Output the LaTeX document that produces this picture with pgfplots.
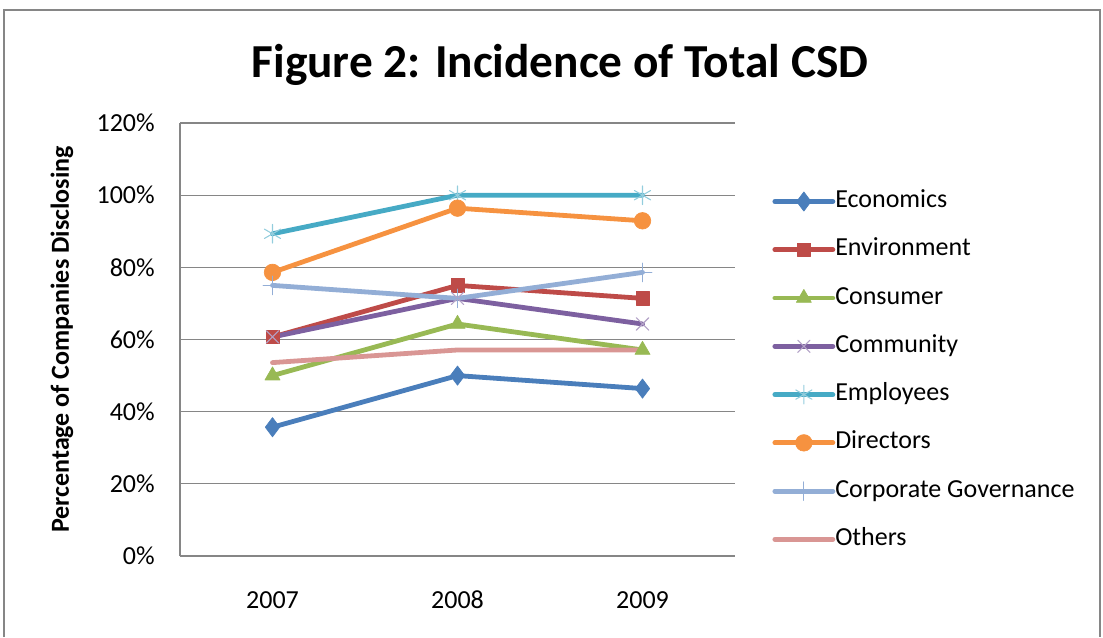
\documentclass[border=0pt]{standalone}
\usepackage{pgfplots}
\pgfplotsset{compat=1.18}
\usepackage{fontspec}
\setmainfont{Carlito}
\definecolor{ceco}{HTML}{4A7EBB}
\definecolor{cenv}{HTML}{BE4B48}
\definecolor{ccon}{HTML}{98B954}
\definecolor{ccom}{HTML}{7D60A0}
\definecolor{ccomm}{HTML}{B3A2C7}
\definecolor{cemp}{HTML}{46AAC5}
\definecolor{cempm}{HTML}{93CDDD}
\definecolor{cdir}{HTML}{F69240}
\definecolor{ccg}{HTML}{93AED6}
\definecolor{coth}{HTML}{D99694}
\definecolor{cgrid}{HTML}{868686}
\begin{document}
\begin{tikzpicture}
\path[use as bounding box] (0pt,0pt) rectangle (827.25pt,-477.75pt);
\draw[color=cgrid, line width=1.2pt] (3pt,-477.75pt) -- (3pt,-7.5pt) -- (825pt,-7.5pt) -- (825pt,-477.75pt);
\node[font=\fontsize{35.5}{40}\selectfont\bfseries] at (420pt,-48.75pt) {Figure 2: Incidence of Total CSD};
\begin{axis}[
  at={(135pt,-417pt)}, anchor=south west,
  scale only axis, width=416.25pt, height=324.75pt,
  xmin=-0.5, xmax=2.5, ymin=0, ymax=120,
  xtick={0,1,2}, xticklabels={2007,2008,2009},
  ytick={0,20,40,60,80,100,120},
  yticklabels={0\%,20\%,40\%,60\%,80\%,100\%,120\%},
  /pgf/number format/assume math mode=true,
  axis x line=bottom, axis y line=left,
  axis line style={-, color=cgrid, line width=0.9pt},
  ymajorgrids, major grid style={color=cgrid, line width=0.9pt},
  major tick length=0pt,
  tick label style={font=\fontsize{19.5}{23}\selectfont},
  xticklabel style={anchor=center, yshift=-33pt},
  yticklabel style={anchor=east, inner sep=0pt, xshift=-18.75pt},
  ylabel={Percentage of Companies Disclosing},
  ylabel style={font=\fontsize{19.5}{23}\selectfont\bfseries, at={(axis description cs:-0.2126,0.5)}, anchor=center, rotate=0},
  legend style={draw=none, fill=none, at={(axis description cs:1.067,0.847)}, anchor=north west,
    font=\fontsize{19.5}{23}\selectfont, row sep=18.2pt, inner sep=0pt, column sep=0pt,
    nodes={inner sep=0pt, text height=13.5pt, text depth=4.5pt}},
  legend cell align=left,
  legend image code/.code={\draw[mark repeat=2, mark phase=2, #1] plot coordinates {(0pt,0pt) (21.75pt,0pt) (43.5pt,0pt)};},
  every axis plot/.append style={line width=3.6pt, line join=round, line cap=round},
]
\addplot[color=ceco, mark=diamond*, mark size=7.2pt, mark options={solid, fill=ceco, line width=0.5pt}] coordinates {(0,35.7) (1,50.0) (2,46.4)};
\addlegendentry{Economics}
\addplot[color=cenv, mark=square*, mark size=5pt, mark options={solid, fill=cenv, line width=0.5pt}] coordinates {(0,60.7) (1,75.0) (2,71.4)};
\addlegendentry{Environment}
\addplot[color=ccon, mark=triangle*, mark size=6.5pt, mark options={solid, fill=ccon, line width=0.5pt}] coordinates {(0,50.0) (1,64.3) (2,57.1)};
\addlegendentry{Consumer}
\addplot[color=ccom, mark=x, mark size=6.5pt, mark options={solid, color=ccomm, line width=0.8pt}] coordinates {(0,60.7) (1,71.4) (2,64.3)};
\addlegendentry{Community}
\addplot[color=cemp, mark=asterisk, mark size=7pt, mark options={solid, color=cempm, line width=0.8pt}] coordinates {(0,89.3) (1,100.0) (2,100.0)};
\addlegendentry{Employees}
\addplot[color=cdir, mark=*, mark size=6.2pt, mark options={solid, fill=cdir, line width=0.5pt}] coordinates {(0,78.6) (1,96.4) (2,92.9)};
\addlegendentry{Directors}
\addplot[color=ccg, mark=+, mark size=7pt, mark options={solid, color=ccg, line width=0.8pt}] coordinates {(0,75.0) (1,71.4) (2,78.6)};
\addlegendentry{Corporate Governance}
\addplot[color=coth] coordinates {(0,53.6) (1,57.1) (2,57.1)};
\addlegendentry{Others}
\end{axis}
\end{tikzpicture}
\end{document}
